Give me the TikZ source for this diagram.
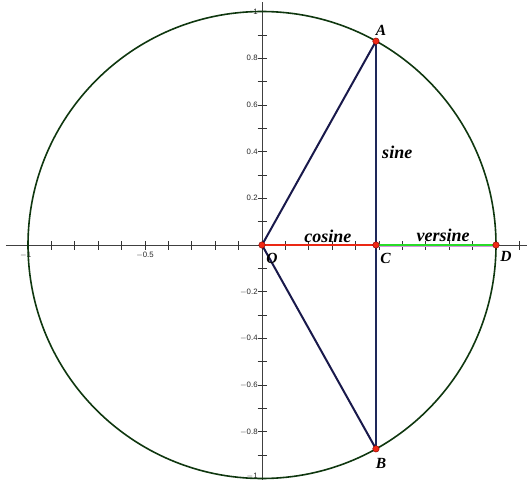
\documentclass[tikz,border=0pt]{standalone}
\usepackage{fontspec}
\setmainfont{Liberation Serif}
\newfontfamily\ticksfont{Liberation Sans}
\definecolor{circgreen}{RGB}{15,55,15}
\definecolor{navyline}{RGB}{25,25,75}
\definecolor{sineblue}{RGB}{30,40,90}
\definecolor{cosred}{RGB}{235,40,20}
\definecolor{vergreen}{RGB}{40,220,40}
\definecolor{verpink}{RGB}{210,150,220}
\definecolor{ptred}{RGB}{240,40,20}
\begin{document}
\begin{tikzpicture}[x=234pt,y=233.5pt,
  axisline/.style={draw=black!75,line width=0.8pt},
  tickline/.style={draw=black!80,line width=0.7pt},
  ticklbl/.style={font=\ticksfont\fontsize{7.8}{8}\selectfont,inner sep=0pt,text=black!85},
  ptlbl/.style={font=\bfseries\itshape\fontsize{15.5}{16}\selectfont,inner sep=0pt},
  seglbl/.style={font=\bfseries\itshape\fontsize{18}{19}\selectfont,inner sep=0pt},
  dot/.style={circle,fill=ptred,draw=red!50!black,line width=0.4pt,minimum size=6.5pt,inner sep=0pt}]
\useasboundingbox (-1.1197,-1.0064) rectangle (1.1325,1.0493);
% axes
\coordinate (xl) at (-1.095,0);
\coordinate (xr) at (1.1325,0);
\coordinate (yb) at (0,-1.0064);
\coordinate (yt) at (0,1.04);
\draw[axisline] (xl) -- (xr);
\draw[axisline] (yb) -- (yt);
\foreach \i in {-10,...,11} {
  \draw[tickline] (\i/10,-4.5pt) -- (\i/10,4.5pt);
}
\foreach \i in {-10,...,10} {
  \draw[tickline] (-4.5pt,\i/10) -- (4.5pt,\i/10);
}
\node[ticklbl,anchor=north] (xm1) at (-1.01,-0.028) {$-$1};
\node[ticklbl,anchor=north] (xm05) at (-0.5,-0.028) {$-$0.5};
\foreach \v/\t in {1/1,0.8/0.8,0.6/0.6,0.4/0.4,0.2/0.2,-0.2/{$-$0.2},-0.4/{$-$0.4},-0.6/{$-$0.6},-0.8/{$-$0.8}} {
  \node[ticklbl,anchor=east] at (-0.018,\v) {\t};
}
\node[ticklbl,anchor=east] (ym1) at (-0.018,-0.99) {$-$1};
% circle
\draw[circgreen,line width=1.6pt] (0,0) circle (1);
% points
\coordinate (O) at (0,0);
\coordinate (A) at (0.487,0.873);
\coordinate (B) at (0.487,-0.873);
\coordinate (C) at (0.487,0);
\coordinate (D) at (1,0);
% segments
\draw[navyline,line width=2pt] (A) -- (O) -- (B);
\draw[sineblue!60!cyan!40,line width=2.6pt] (A) -- (B);
\draw[sineblue,line width=1.6pt] (A) -- (B);
\draw[cosred,line width=2.2pt] (O) -- (C);
\draw[verpink,line width=2.6pt] ([yshift=-0.9pt]C) -- ([yshift=-0.9pt]D);
\draw[vergreen,line width=1.8pt] ([yshift=0.4pt]C) -- ([yshift=0.4pt]D);
\node[dot] (Od) at (O) {};
\node[dot] (Ad) at (A) {};
\node[dot] (Bd) at (B) {};
\node[dot] (Cd) at (C) {};
\node[dot] (Dd) at (D) {};
% labels
\node[ptlbl] (Al) at (0.509,0.921) {A};
\node[ptlbl] (Bl) at (0.509,-0.934) {B};
\node[ptlbl] (Ol) at (0.043,-0.058) {O};
\node[ptlbl] (Cl) at (0.528,-0.058) {C};
\node[ptlbl] (Dl) at (1.043,-0.050) {D};
\node[seglbl] (cosl) at (0.282,0.037) {cosine};
\node[seglbl] (verl) at (0.774,0.041) {versine};
\node[seglbl] (sinl) at (0.578,0.395) {sine};
\end{tikzpicture}
\end{document}
